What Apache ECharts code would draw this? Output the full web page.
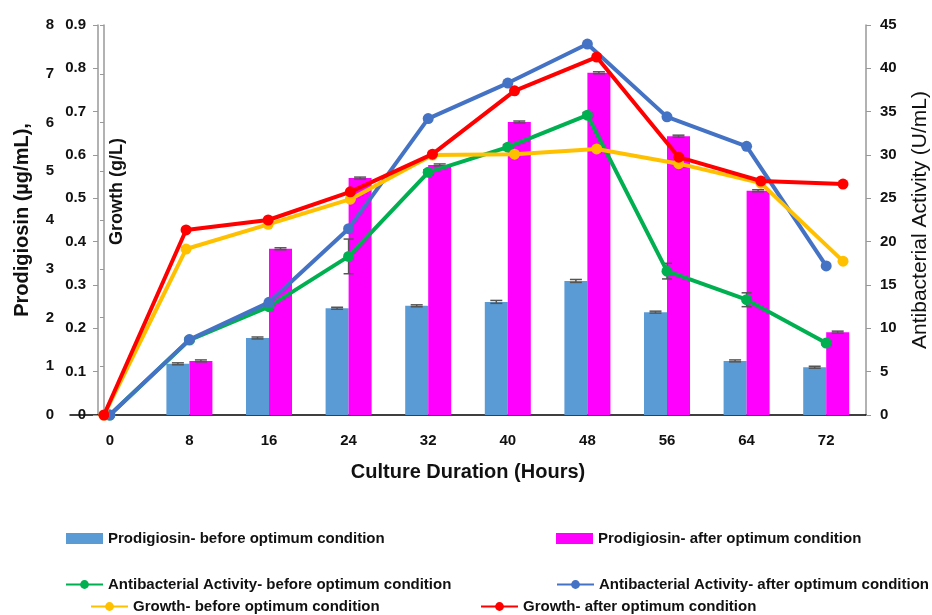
<!DOCTYPE html>
<html><head><meta charset="utf-8">
<script src="https://cdn.jsdelivr.net/npm/echarts@6/dist/echarts.min.js"></script>
<style>html,body{margin:0;padding:0;background:#fff}#c{width:932px;height:615px}</style>
</head><body><div id="c"></div>
<script>
const hours = ['0','8','16','24','32','40','48','56','64','72'];
const prodBefore = [0, 1.05, 1.58, 2.19, 2.24, 2.32, 2.75, 2.11, 1.11, 0.98];
const prodAfter  = [0, 1.11, 3.41, 4.86, 5.13, 6.01, 7.02, 5.72, 4.60, 1.70];
const prodBeforeErr = [0, 0.02, 0.02, 0.02, 0.02, 0.03, 0.03, 0.02, 0.02, 0.02];
const prodAfterErr  = [0, 0.02, 0.02, 0.02, 0.02, 0.02, 0.02, 0.02, 0.02, 0.02];
const abBefore = [0, 8.65, 12.5, 18.3, 28.0, 30.9, 34.6, 16.6, 13.3, 8.3];
const abBeforeErr = [0, 0.2, 0.3, 2.0, 0.3, 0.3, 0.3, 0.9, 0.8, 0.2];
const abAfter  = [0, 8.7, 13.0, 21.5, 34.2, 38.3, 42.8, 34.4, 31.0, 17.2];
const growthBefore = [0, 0.383, 0.44, 0.498, 0.60, 0.602, 0.614, 0.58, 0.535, 0.355];
const growthAfter  = [0, 0.427, 0.45, 0.515, 0.602, 0.748, 0.826, 0.595, 0.54, 0.533];
const prodTicks = [0,1,2,3,4,5,6,7,8];
const growthTicks = [0,0.1,0.2,0.3,0.4,0.5,0.6,0.7,0.8,0.9];
const abTicks = [0,5,10,15,20,25,30,35,40,45];

const FONT = 'Liberation Sans';
const BARW = 23;

function errSeries(name, vals, errs, yIdx, xOff, color, capHalf){
  return {
    type: 'custom', name: name, xAxisIndex: 0, yAxisIndex: yIdx, z: 5,
    data: vals.map((v,i)=>[i, v, errs[i]]),
    renderItem: function(params, api){
      const i = api.value(0), v = api.value(1), e = api.value(2);
      if (!v) return null;
      const top = api.coord([i, v + e]);
      const bot = api.coord([i, v - e]);
      const x = top[0] + xOff;
      const st = {stroke: color, lineWidth: 1.5};
      return {type:'group', children:[
        {type:'line', shape:{x1:x, y1:top[1], x2:x, y2:bot[1]}, style:st},
        {type:'line', shape:{x1:x-capHalf, y1:top[1], x2:x+capHalf, y2:top[1]}, style:st},
        {type:'line', shape:{x1:x-capHalf, y1:bot[1], x2:x+capHalf, y2:bot[1]}, style:st}
      ]};
    },
    silent: true, tooltip:{show:false}
  };
}

const chart = echarts.init(document.getElementById('c'));
const legendText = {fontFamily: FONT, fontSize: 15, fontWeight: 'bold', color: '#111'};
function lg(name, left, top, icon){
  const o = {data:[name], left:left, top:top, itemWidth:37, itemHeight:11, itemGap:2, textStyle:legendText, padding:0, selectedMode:false};
  if (icon) o.icon = icon;
  return o;
}
const option = {
  animation: false,
  backgroundColor: '#fff',
  grid: {left: 70, right: 66, top: 25, bottom: 200, containLabel: false, outerBoundsMode: 'none'},
  legend: [
    lg('Prodigiosin- before optimum condition', 66, 531, 'rect'),
    lg('Prodigiosin- after optimum condition', 556, 531, 'rect'),
    lg('Antibacterial Activity- before optimum condition', 65, 577),
    lg('Antibacterial Activity- after optimum condition', 556, 577),
    lg('Growth- before optimum condition', 90, 599),
    lg('Growth- after optimum condition', 480, 599)
  ],
  xAxis: [
    {type:'category', data: hours, position:'bottom',
     axisLine:{lineStyle:{color:'#000', width:1.5}},
     axisTick:{alignWithLabel:true, length:5, lineStyle:{color:'#777'}},
     axisLabel:{fontFamily:FONT, fontWeight:'bold', fontSize:15, color:'#111', margin:18},
     name:'Culture Duration (Hours)', nameLocation:'middle', nameGap:47,
     nameTextStyle:{fontFamily:FONT, fontWeight:'bold', fontSize:20, color:'#111'}},
    {type:'value', min:-3.31, max:74.24, show:false}
  ],
  yAxis: [
    {type:'value', min:prodTicks[0], max:prodTicks[prodTicks.length-1], interval:1, position:'left', offset:0,
     axisLine:{show:true, lineStyle:{color:'#999', width:1.5}},
     axisTick:{show:true, length:4, lineStyle:{color:'#999'}},
     splitLine:{show:false},
     axisLabel:{fontFamily:FONT, fontWeight:'bold', fontSize:15, color:'#111', margin:16},
     name:'Prodigiosin (µg/mL),', nameLocation:'middle', nameGap:38, nameRotate:90,
     nameTextStyle:{fontFamily:FONT, fontWeight:'bold', fontSize:20, color:'#111'}},
    {type:'value', min:growthTicks[0], max:growthTicks[growthTicks.length-1], interval:0.1, position:'left', offset:-28,
     axisLine:{show:true, onZero:false, lineStyle:{color:'#999', width:1.5}},
     axisTick:{show:true, length:5, lineStyle:{color:'#999'}},
     splitLine:{show:false},
     axisLabel:{fontFamily:FONT, fontWeight:'bold', fontSize:15, color:'#111', margin:12}},
    {type:'value', min:abTicks[0], max:abTicks[abTicks.length-1], interval:5, position:'right', offset:0,
     axisLine:{show:true, lineStyle:{color:'#999', width:1.5}},
     axisTick:{show:true, length:5, lineStyle:{color:'#999'}},
     splitLine:{show:false},
     axisLabel:{fontFamily:FONT, fontWeight:'bold', fontSize:15, color:'#111', margin:14},
     name:'Antibacterial Activity (U/mL)', nameLocation:'middle', nameGap:44, nameRotate:90,
     nameTextStyle:{fontFamily:FONT, fontSize:21, color:'#111'}}
  ],
  graphic: [
    {type:'text', left: 108, top: 138, rotation: Math.PI/2,
     style:{text:'Growth (g/L)', fontFamily:FONT, fontWeight:'bold', fontSize:18, fill:'#111'}}
  ],
  series: [
    {name:'Prodigiosin- before optimum condition', type:'bar', xAxisIndex:0, yAxisIndex:0,
     data: prodBefore, barWidth: BARW, barGap:'0%', itemStyle:{color:'#5b9bd5'}, z:2},
    {name:'Prodigiosin- after optimum condition', type:'bar', xAxisIndex:0, yAxisIndex:0,
     data: prodAfter, barWidth: BARW, barGap:'0%', itemStyle:{color:'#ff00ff'}, z:2},
    errSeries('eb1', prodBefore, prodBeforeErr, 0, -BARW/2, '#555', 6),
    errSeries('eb2', prodAfter, prodAfterErr, 0, BARW/2, '#555', 6),
    {name:'Antibacterial Activity- before optimum condition', type:'line', xAxisIndex:0, yAxisIndex:2,
     data: abBefore, symbol:'circle', symbolSize:11, lineStyle:{color:'#00b050', width:4},
     itemStyle:{color:'#00b050'}, z:6},
    errSeries('eb3', abBefore, abBeforeErr, 2, 0, '#555', 5),
    {name:'Antibacterial Activity- after optimum condition', type:'line', xAxisIndex:0, yAxisIndex:2,
     data: abAfter, symbol:'circle', symbolSize:11, lineStyle:{color:'#4472c4', width:4},
     itemStyle:{color:'#4472c4'}, z:7},
    {name:'Growth- before optimum condition', type:'line', xAxisIndex:1, yAxisIndex:1,
     data: hours.map((h,i)=>[Number(h), growthBefore[i]]), symbol:'circle', symbolSize:11,
     lineStyle:{color:'#ffc000', width:4}, itemStyle:{color:'#ffc000'}, z:8},
    {name:'Growth- after optimum condition', type:'line', xAxisIndex:1, yAxisIndex:1,
     data: hours.map((h,i)=>[Number(h), growthAfter[i]]), symbol:'circle', symbolSize:11,
     lineStyle:{color:'#ff0000', width:4}, itemStyle:{color:'#ff0000'}, z:9}
  ]
};
chart.setOption(option);
</script></body></html>
